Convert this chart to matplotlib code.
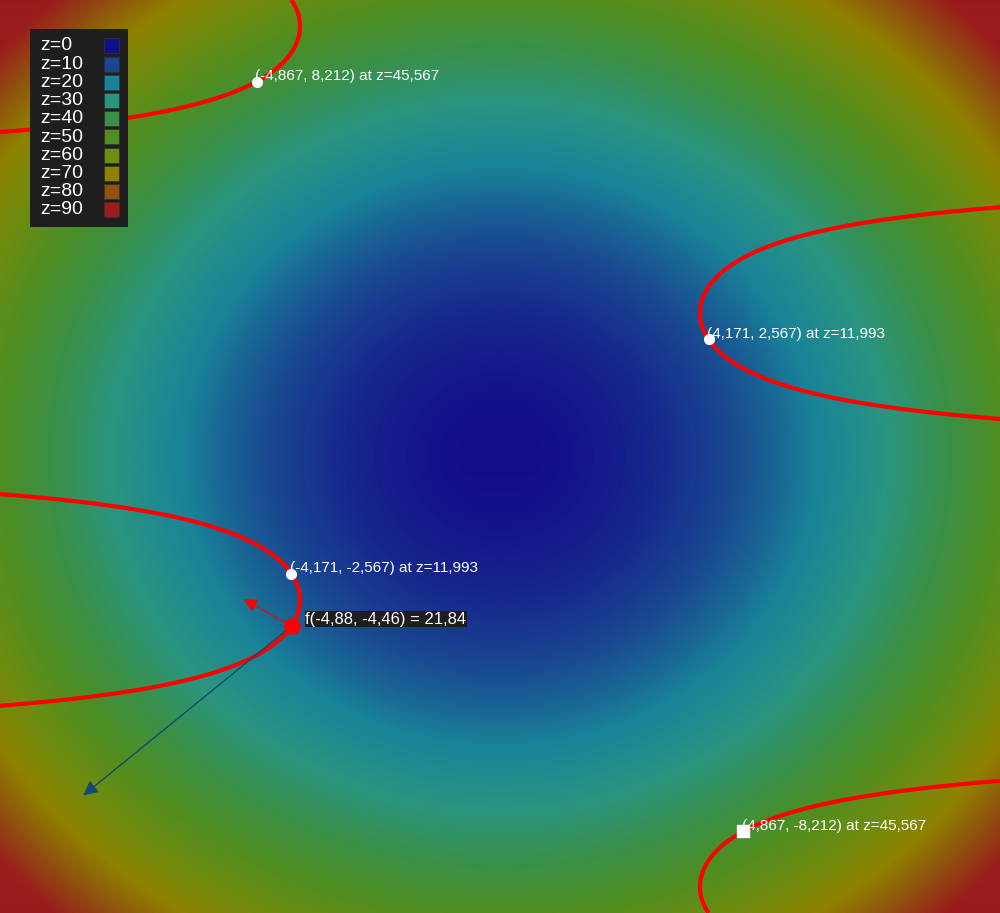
import numpy as np
import matplotlib.pyplot as plt
from matplotlib.colors import LinearSegmentedColormap
from matplotlib.patches import Rectangle

plt.rcParams['font.family'] = ['Liberation Sans', 'DejaVu Sans']

# legend levels and their colours
levels = [0, 10, 20, 30, 40, 50, 60, 70, 80, 90]
level_colors = ['#130f8a', '#1a4590', '#198399', '#2a9580', '#3a9048',
                '#4f8e22', '#6e8c10', '#8f8200', '#905010', '#9a1c1c']

# constraint g(x, y) = x*sin(y/2) = c
c_level = 4.0

# critical points of f on the constraint
crit_x = [-4.867, 4.171, -4.171, 4.867]
crit_y = [8.212, 2.567, -2.567, -8.212]
crit_z = [45.567, 11.993, 11.993, 45.567]
crit_marker = ['o', 'o', 'o', 's']

# selected point on the curve (picked by y)
pt_y = -3.713
hover_label = 'f(-4,88, -4,46) = 21,84'


def f(x, y):
    return (x**2 + y**2) / 2


def g(x, y):
    return x * np.sin(y / 2)


def px(x, y):
    # figure pixel (top-left origin) -> axes fraction
    return x / 1000, 1 - y / 913


cmap = LinearSegmentedColormap.from_list(
    'z', list(zip(np.array(levels) / 90, level_colors)))

fig = plt.figure(figsize=(10, 9.13), dpi=100)
ax = fig.add_axes([0, 0, 1, 1])
ax.axis('off')

xs = np.linspace(-10, 10, 1000)
ys = np.linspace(-10, 10, 913)
X, Y = np.meshgrid(xs, ys)
ax.imshow(f(X, Y), extent=(-10, 10, -10, 10), origin='lower', cmap=cmap,
          vmin=0, vmax=90, aspect='auto', interpolation='bilinear')
ax.contour(X, Y, g(X, Y), levels=[c_level], colors='red', linewidths=3)

for x, y, z, m in zip(crit_x, crit_y, crit_z, crit_marker):
    ax.plot(x, y, m, color='white', markersize=7 if m == 'o' else 8, zorder=5)
    lab = f'({x:.3f}, {y:.3f}) at z={z:.3f}'.replace('.', ',')
    ax.annotate(lab, (x, y), xytext=(-1, 4), textcoords='offset points',
                color='white', fontsize=11, va='center', ha='left', zorder=6)

# point on the curve + gradients
p_x = c_level / np.sin(pt_y / 2)
p_y = pt_y
grad_g = (np.sin(p_y / 2), p_x / 2 * np.cos(p_y / 2))
grad_f = (p_x, p_y)

ax.annotate('', xy=(p_x + grad_f[0], p_y + grad_f[1]), xytext=(p_x, p_y),
            arrowprops=dict(arrowstyle='-|>', color='#174a6e', lw=1,
                            mutation_scale=22, shrinkA=0, shrinkB=0), zorder=4)
ax.annotate('', xy=(p_x + grad_g[0], p_y + grad_g[1]), xytext=(p_x, p_y),
            arrowprops=dict(arrowstyle='-|>', color='red', lw=1, ls='--',
                            mutation_scale=20, shrinkA=0, shrinkB=0), zorder=4)
ax.plot(p_x, p_y, 'o', color='red', markersize=11, zorder=7)
ax.annotate(hover_label, (p_x, p_y), xytext=(10, 5), textcoords='offset points',
            color='white', fontsize=12, va='center', ha='left', zorder=8,
            bbox=dict(boxstyle='square,pad=0.05', fc='#1e1e1e', ec='none'))

# legend box
x0, y0 = px(30, 227)
x1, y1 = px(128, 29)
ax.add_patch(Rectangle((x0, y0), x1 - x0, y1 - y0, transform=ax.transAxes,
                       fc='#1e1e1e', ec='none', zorder=9))
for i, (lv, col) in enumerate(zip(levels, level_colors)):
    ry = 46 + 18.2 * i
    tx, ty = px(40, ry)
    ax.text(tx, ty, f'z={lv}', transform=ax.transAxes, color='white',
            fontsize=14, va='center', ha='left', zorder=10)
    sx, sy = px(104, ry + 7.5)
    ax.add_patch(Rectangle((sx, sy), 15 / 1000, 15 / 913, transform=ax.transAxes,
                           fc=col, ec='#333333', lw=0.5, zorder=10))

ax.set_xlim(-10, 10)
ax.set_ylim(-10, 10)
fig.savefig('out.png', dpi=100)
